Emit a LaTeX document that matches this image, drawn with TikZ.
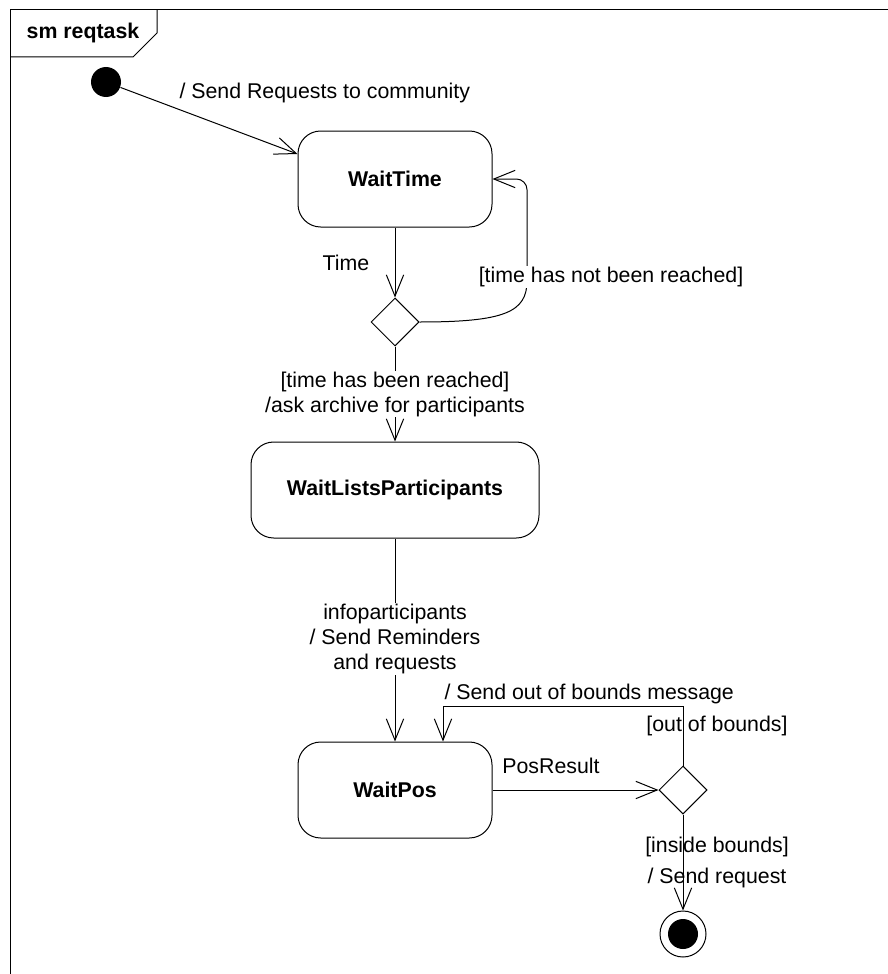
\documentclass[tikz,border=0pt]{standalone}
\usepackage{fontspec}
\setmainfont{Liberation Sans}
\usetikzlibrary{shapes.geometric,arrows.meta,calc}

\begin{document}
\begin{tikzpicture}[x=0.75pt,y=0.75pt,yscale=-1,xscale=1,
  line width=0.75pt,
  font=\fontsize{16}{18.75}\selectfont,
  state/.style={draw,rounded corners=17pt,minimum width=145.5pt,minimum height=72pt,inner sep=0.75pt,font=\fontsize{16}{18.75}\selectfont\bfseries},
  choice/.style={draw,diamond,minimum width=36pt,minimum height=36pt,inner sep=0pt},
  startdot/.style={circle,fill=black,minimum size=22.5pt,inner sep=0pt},
  enddot/.style={draw,circle,minimum size=34.5pt,inner sep=0pt,path picture={\fill[black] (path picture bounding box.center) circle[radius=11.25pt];}},
  trans/.style={-{Straight Barb[length=16pt,width=13pt]}},
  lbl/.style={inner sep=0.75pt,align=center},
  cover/.style={lbl,fill=white}]
\useasboundingbox (0,0) rectangle (888,974);

%Frame with its name tab
\draw (10,974) -- (10,10) -- (888,10) ;
\draw (10,57) -- (133,57) -- (157,33) -- (157,10) ;
\node[lbl,font=\fontsize{16}{18.75}\selectfont\bfseries] (frametitle) at (83,33) {sm reqtask};

%States
\node[startdot] (start) at (106,82) {};
\node[state] (waittime) at (395,179) {WaitTime};
\node[choice] (timechoice) at (395,322) {};
\node[state,minimum width=216pt] (waitlists) at (395,490) {WaitListsParticipants};
\node[state] (waitpos) at (395,790) {WaitPos};
\node[choice] (poschoice) at (683,790) {};
\node[enddot] (end) at (683,934) {};

%Corner points of the two loops
\coordinate (timeloop) at (527,179);
\coordinate (boundsloop) at (443,706);

%Transitions
\draw[trans] (start) -- ($(waittime.west)+(0,-25)$) ;
\draw[trans] (waittime) -- (timechoice) ;
\draw[trans,rounded corners=8pt] (timechoice.east) .. controls (505,322) and (527,312) .. (527,270) -- (timeloop) -- (waittime.east) ;
\draw[trans] (timechoice) -- (waitlists) ;
\draw[trans] (waitlists) -- (waitpos) ;
\draw[trans] (waitpos) -- (poschoice) ;
\draw[trans] (poschoice.north) |- (boundsloop) -- (boundsloop |- waitpos.north) ;
\draw[trans] (poschoice) -- (end) ;

% Text Node
\node[lbl,anchor=west] (sendreq) at (178,93) {/ Send Requests to community};
% Text Node
\node[lbl] (timelbl) at (346,263) {Time};
% Text Node
\node[cover] (notreached) at (611,277) {[time has not been reached]};
% Text Node
\node[cover] (reached) at (395,394) {[time has been reached]\\/ask archive for participants};
% Text Node
\node[cover] (infopart) at (395,639) {infoparticipants\\/ Send Reminders\\and requests};
% Text Node
\node[lbl,anchor=west] (oobmsg) at (443,694) {/ Send out of bounds message};
% Text Node
\node[lbl] (ooblbl) at (717,726) {[out of bounds]};
% Text Node
\node[lbl] (posres) at (551,766) {PosResult};
% Text Node
\node[lbl] (insidelbl) at (717,847) {[inside bounds]};
% Text Node
\node[lbl] (sendlbl) at (717,878) {/ Send request};

\end{tikzpicture}
\end{document}
